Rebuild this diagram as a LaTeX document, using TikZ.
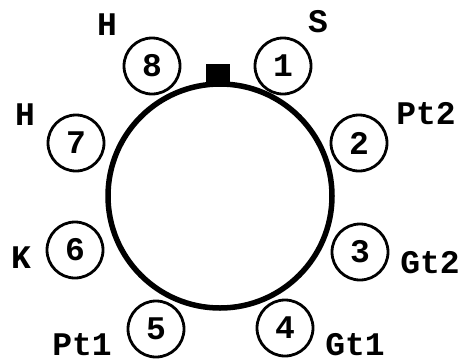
\documentclass[tikz,border=0pt]{standalone}
\usepackage{fontspec}
\setmonofont{Liberation Mono}
\tikzset{every picture/.style={line width=0.75pt}}
\tikzset{
  num/.style={draw, circle, line width=2.8pt, minimum size=56pt, inner sep=0pt, font=\ttfamily\bfseries\fontsize{33}{33}\selectfont},
  lbl/.style={inner sep=0pt, font=\ttfamily\bfseries\fontsize{33}{33}\selectfont}
}
\begin{document}
\begin{tikzpicture}[x=1pt,y=1pt,yscale=-1,xscale=1]
	\useasboundingbox (0,0) rectangle (465,362);

	%Shape: Circle [id:ring]
	\draw [line width=5.5pt] (220,196) circle (112) ;
	%Shape: Square [id:tab]
	\node (tab) at (218,74) [fill=black, inner sep=0pt, minimum width=24pt, minimum height=20pt] {};

	% Numbered circles
	\node (c1) at (283,66) [num] {1};
	\node (c2) at (359,143) [num] {2};
	\node (c3) at (360,252) [num] {3};
	\node (c4) at (285,328) [num] {4};
	\node (c5) at (156,329) [num] {5};
	\node (c6) at (75,250) [num] {6};
	\node (c7) at (76,143) [num] {7};
	\node (c8) at (152,66) [num] {8};

	% Text Node
	\node (lS) at (318,22) [lbl] {S};
	% Text Node
	\node (lPt2) at (426,114) [lbl] {Pt2};
	% Text Node
	\node (lGt2) at (430,263) [lbl] {Gt2};
	% Text Node
	\node (lGt1) at (355,345) [lbl] {Gt1};
	% Text Node
	\node (lPt1) at (82,345) [lbl] {Pt1};
	% Text Node
	\node (lK) at (21,258) [lbl] {K};
	% Text Node
	\node (lH7) at (25,115) [lbl] {H};
	% Text Node
	\node (lH8) at (107,25) [lbl] {H};

\end{tikzpicture}
\end{document}
